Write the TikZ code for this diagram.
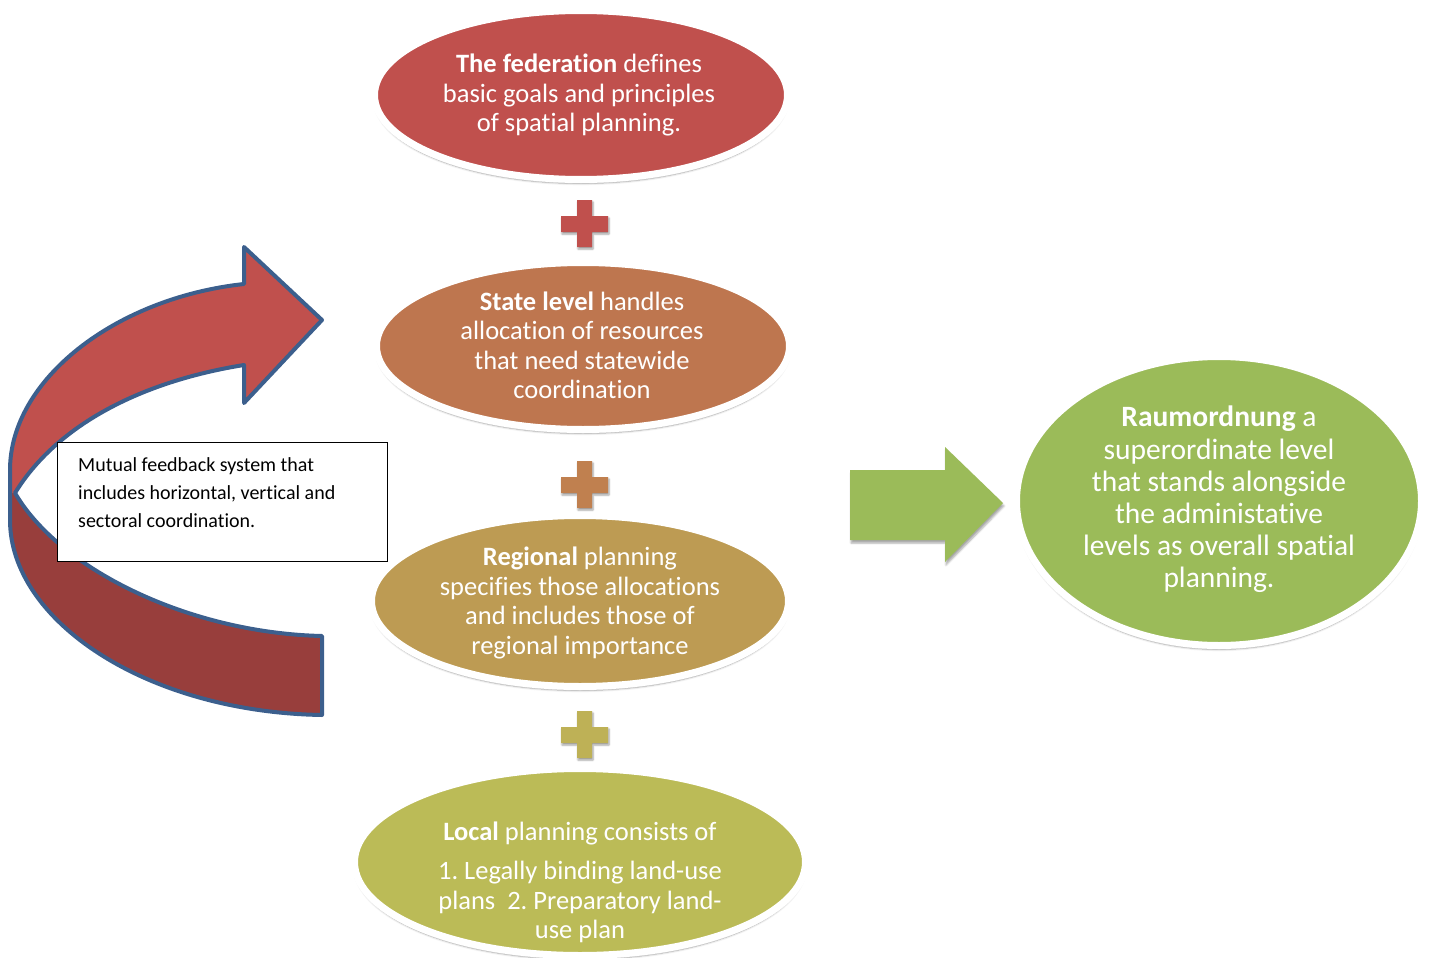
\documentclass[tikz,border=0pt]{standalone}
\usepackage{fontspec}
\setmainfont{Carlito}[Ligatures=NoCommon]
\frenchspacing
\usetikzlibrary{shapes.geometric,shadows.blur}
\definecolor{cRed}{HTML}{C0504D}
\definecolor{cDark}{HTML}{983E3C}
\definecolor{cOrange}{HTML}{BE764F}
\definecolor{cPlusTwo}{HTML}{C0804F}
\definecolor{cTan}{HTML}{BD9B53}
\definecolor{cPlusThree}{HTML}{BEB156}
\definecolor{cOlive}{HTML}{BBBB57}
\definecolor{cGreen}{HTML}{9BBB59}
\definecolor{cBlue}{HTML}{3C5F8D}
\tikzset{
  level/.style={ellipse, draw=white, line width=7pt, inner sep=0pt,
    blur shadow={shadow xshift=0pt, shadow yshift=-4pt, shadow blur steps=6, shadow opacity=35}},
  lvltext/.style={text=white, align=center, inner sep=0pt, font=\fontsize{26.5}{29.5}\selectfont},
  plusshape/.style={blur shadow={shadow xshift=1pt, shadow yshift=-2pt, shadow blur steps=4, shadow opacity=40}},
}
\begin{document}
\begin{tikzpicture}[x=1pt,y=-1pt]
\useasboundingbox (0,0) rectangle (1430,958);

% level ellipses
\node[level, fill=cRed, minimum width=413, minimum height=169] (fed) at (581,95) {};
\node[level, fill=cOrange, minimum width=413, minimum height=167] (state) at (583,346) {};
\node[level, fill=cTan, minimum width=417, minimum height=171] (reg) at (580,601) {};
\node[level, fill=cOlive, minimum width=451, minimum height=187] (loc) at (580,862) {};
\node[level, fill=cGreen, minimum width=405, minimum height=289] (raum) at (1219,501) {};

\node[lvltext] (fedtxt) at (579,95) {\textbf{The federation} defines\\basic goals and principles\\of spatial planning.};
\node[lvltext] (statetxt) at (582,345.5) {\textbf{State level} handles\\allocation of resources\\that need statewide\\coordination};
\node[lvltext] (regtxt) at (580,603) {\textbf{Regional} planning\\specifies those allocations\\and includes those of\\regional importance};
\node[lvltext] (loctxt) at (580,882.5) {\textbf{Local} planning consists of\\[10pt]1. Legally binding land-use\\plans\ \ 2. Preparatory land-\\use plan};
\node[lvltext, font=\fontsize{29.5}{32.2}\selectfont] (raumtxt) at (1219,499.5) {\textbf{Raumordnung} a\\superordinate level\\that stands alongside\\the administative\\levels as overall spatial\\planning.};

% plus signs
\foreach \n/\cy/\col in {plusA/223.5/cRed, plusB/484.5/cPlusTwo, plusC/734.5/cPlusThree}{
  \coordinate (\n) at (584.5,\cy);
  \fill[\col, plusshape] ([xshift=-7.5pt,yshift=23.5pt]\n) -- ++(15,0) -- ++(0,16) -- ++(16,0) -- ++(0,16) -- ++(-16,0)
     -- ++(0,15) -- ++(-15,0) -- ++(0,-15) -- ++(-16,0) -- ++(0,-16) -- ++(16,0) -- cycle;
}

% green block arrow
\coordinate (gA) at (850,470);
\fill[cGreen, blur shadow={shadow xshift=1pt, shadow yshift=-3pt, shadow blur steps=5, shadow opacity=35}]
  (gA) -- (945,470) -- (945,447) -- (1003,503) -- (945,562) -- (945,540) -- (850,540) -- cycle;

% curved feedback arrow
\coordinate (arrEnd) at (322,715);
\coordinate (arrTip) at (322,320);
\fill[cDark] (arrEnd) -- (322,636) .. controls (190,633) and (60,570) .. (15,493)
  .. controls (60,420) and (150,380) .. (244,365) -- (244,403) -- (arrTip) -- (244,247) -- (244,284)
  .. controls (115,298) and (10,380) .. (10,470) -- (10,520)
  .. controls (10,620) and (145,712) .. (arrEnd) -- cycle;
\fill[cRed] (15,493) .. controls (60,420) and (150,380) .. (244,365) -- (244,403) -- (arrTip) -- (244,247) -- (244,284)
  .. controls (115,298) and (10,380) .. (10,470) -- (10,493) -- cycle;
\draw[cBlue, line width=4pt, line join=round] (arrEnd) -- (322,636) .. controls (190,633) and (60,570) .. (15,493)
  .. controls (60,420) and (150,380) .. (244,365) -- (244,403) -- (arrTip) -- (244,247) -- (244,284)
  .. controls (115,298) and (10,380) .. (10,470) -- (10,520)
  .. controls (10,620) and (145,712) .. (arrEnd) -- cycle;

% feedback text box
\node[draw=black, fill=white, line width=1pt, minimum width=330, minimum height=119, inner sep=0pt, anchor=north west] (fbbox) at (57,442) {};
\node[anchor=north west, align=left, inner sep=0pt, font=\fontsize{20}{28}\selectfont] (fbtxt) at (78,457) {Mutual feedback system that\\includes horizontal, vertical and\\sectoral coordination.};
\end{tikzpicture}
\end{document}
